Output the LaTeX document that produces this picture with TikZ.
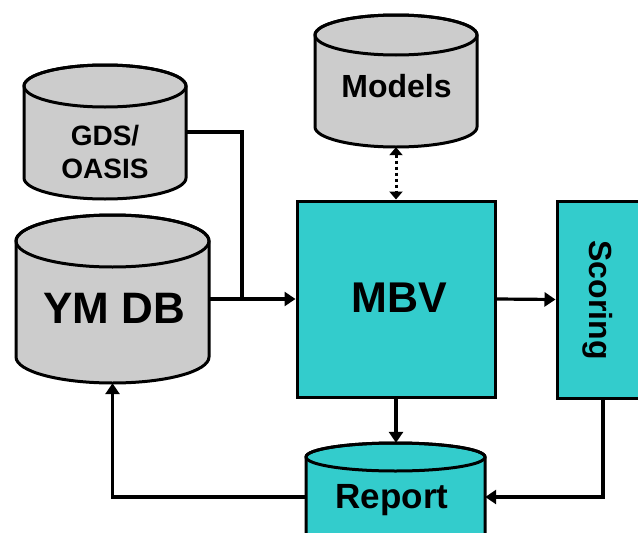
\documentclass[tikz,border=0pt]{standalone}
\usepackage{fontspec}
\setmainfont{Liberation Sans}
\usetikzlibrary{arrows.meta,calc}
\definecolor{tealfill}{RGB}{51,204,204}
\definecolor{grayfill}{RGB}{204,204,204}
\tikzset{
  outline/.style={line width=3pt, draw=black},
  conn/.style={line width=3.2pt, -{Triangle[length=11pt,width=14pt]}},
  plainline/.style={line width=3.2pt},
  dotarrow/.style={line width=3pt, dash pattern=on 3pt off 3pt,
    {Triangle[length=8pt,width=13pt]}-{Triangle[length=8pt,width=13pt]}},
  lbl/.style={inner sep=0pt, font=\bfseries},
}
\newcommand\dbcyl[7]{%
  \filldraw[outline, fill=#7] ({#2},{#4+#6}) -- ({#2},{#5-#6})
    arc[start angle=180,end angle=0,x radius={(#3-#2)/2},y radius=#6]
    -- ({#3},{#4+#6})
    arc[start angle=0,end angle=-180,x radius={(#3-#2)/2},y radius=#6] -- cycle;
  \draw[outline] ({(#2+#3)/2},{#4+#6}) ellipse[x radius={(#3-#2)/2},y radius=#6];
  \node[inner sep=0pt,minimum width={(#3-#2)*1pt},minimum height={(#5-#4)*1pt}]
    (#1) at ({(#2+#3)/2},{(#4+#5)/2}) {};
}
\begin{document}
\begin{tikzpicture}[x=1pt,y=1pt,yscale=-1]
\useasboundingbox (0,0) rectangle (638,533);
\clip (0,0) rectangle (638,533);
% cylinders
\dbcyl{gds}{24}{186}{65}{199}{21}{grayfill}
\dbcyl{ymdb}{16}{209}{215}{383}{26}{grayfill}
\dbcyl{models}{315}{477}{15}{147}{20}{grayfill}
\dbcyl{report}{306}{485}{443}{551}{14}{tealfill}
% boxes
\node[outline, fill=tealfill, inner sep=0pt, minimum width=198pt, minimum height=196pt] (mbv) at (396,299) {};
\node[outline, fill=tealfill, inner sep=0pt, minimum width=92pt, minimum height=197pt] (scoring) at (603,299.5) {};
% labels
\node[lbl, align=center, font=\bfseries\fontsize{28}{33}\selectfont] (gdst) at (105,151.5) {GDS/\\OASIS};
\node[lbl, anchor=base, font=\bfseries\fontsize{44}{50}\selectfont] (ymdbt) at (114.5,323) {YM DB};
\node[lbl, anchor=base, font=\bfseries\fontsize{32}{36}\selectfont] (modelst) at (396.5,97) {Models};
\node[lbl, anchor=base, font=\bfseries\fontsize{43}{48}\selectfont] (mbvt) at (399,312) {MBV};
\node[lbl, anchor=base, font=\bfseries\fontsize{35}{40}\selectfont] (reportt) at (392,508) {Report};
\node[lbl, anchor=base, rotate=-90, font=\bfseries\fontsize{32}{36}\selectfont] (scoringt) at (589,300) {Scoring};
% connectors
\coordinate (jx) at (242,0);
\coordinate (j) at (jx |- ymdb.east);
\draw[plainline] (gds.east) -| (j);
\draw[conn] (ymdb.east) -- (mbv.west);
\draw[dotarrow] (models.south) -- (models.south |- mbv.north);
\draw[conn] (mbv.east) -- (scoring.west);
\draw[conn] (mbv.south) -- (mbv.south |- report.north);
\draw[conn] (scoring.south) |- (report.east);
\draw[conn] (report.west) -| (ymdb.south);
\end{tikzpicture}
\end{document}
